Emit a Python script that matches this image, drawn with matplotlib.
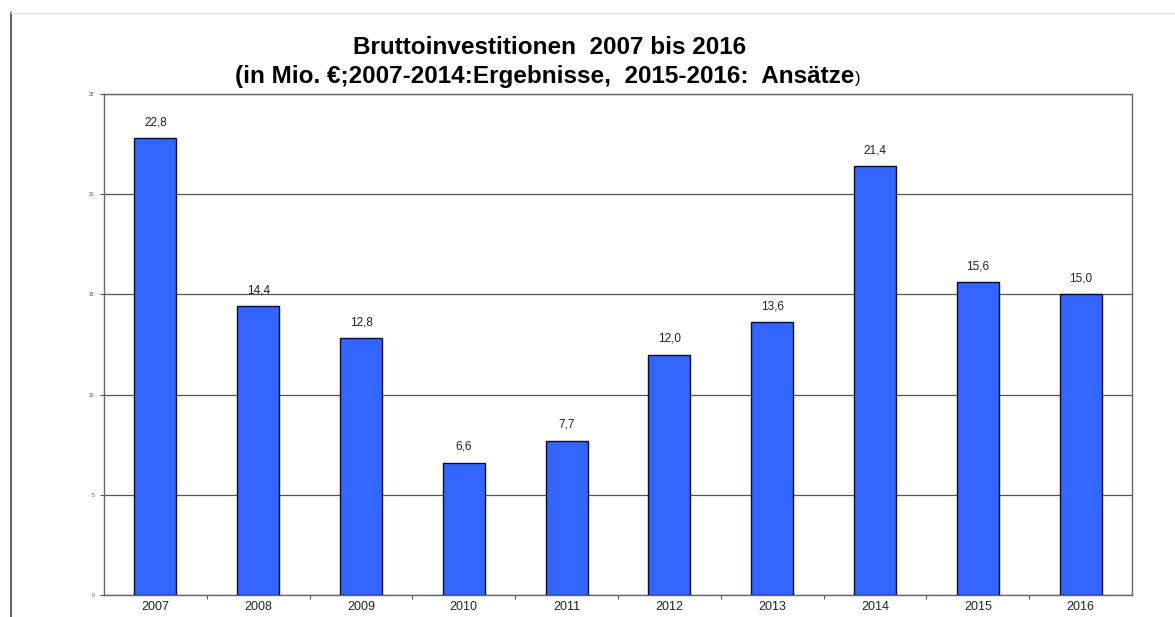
import matplotlib.pyplot as plt
import numpy as np
from matplotlib.lines import Line2D

jahre = ['2007', '2008', '2009', '2010', '2011', '2012', '2013', '2014', '2015', '2016']
werte = [22.8, 14.4, 12.8, 6.6, 7.7, 12.0, 13.6, 21.4, 15.6, 15.0]
beschriftung = ['22,8', '14,4', '12,8', '6,6', '7,7', '12,0', '13,6', '21,4', '15,6', '15,0']

plt.rcParams['font.family'] = ['Liberation Sans', 'DejaVu Sans']

fig = plt.figure(figsize=(11.75, 6.17), dpi=100)
ax = fig.add_axes([104 / 1175, 1 - 595 / 617, 1028 / 1175, 501 / 617])

x = np.arange(len(jahre))
bars = ax.bar(x, werte, width=0.41, color='#3366FF', edgecolor='#0a0a30', linewidth=1.0, zorder=3)

for xi, w, t in zip(x, werte, beschriftung):
    ax.text(xi, w + 0.5, t, ha='center', va='bottom', fontsize=8.5, color='#222222')

ax.set_xlim(-0.5, len(jahre) - 0.5)
ax.set_ylim(0, 25)
ax.set_yticks([0, 5, 10, 15, 20, 25])
ax.set_yticklabels(['0', '5', '10', '15', '20', '25'], fontsize=3.5, color='#555555')
ax.yaxis.grid(True, color='#555555', linewidth=0.9, zorder=0)
ax.tick_params(axis='y', length=3, width=0.8, color='#555555', pad=4)

ax.set_xticks(x)
ax.set_xticklabels(jahre, fontsize=9, color='#222222')
ax.tick_params(axis='x', which='major', length=0, pad=4)
ax.set_xticks(np.arange(0.5, len(jahre) - 1, 1), minor=True)
ax.tick_params(axis='x', which='minor', length=3, width=0.8, color='#555555')

for s in ax.spines.values():
    s.set_color('#666666')
    s.set_linewidth(1.0)

fig.text(550 / 1175, 1 - 47 / 617, 'Bruttoinvestitionen  2007 bis 2016',
         ha='center', va='center', fontsize=17.5, fontweight='bold')
t2 = fig.text(545 / 1175, 1 - 77 / 617, '(in Mio. €;2007-2014:Ergebnisse,  2015-2016:  Ansätze',
              ha='center', va='center', fontsize=17.5, fontweight='bold')
ax.annotate(')', xy=(1, 0.1), xycoords=t2, ha='left', va='bottom', fontsize=12,
            annotation_clip=False)

# Rahmenlinien vom Screenshot
fig.add_artist(Line2D([11 / 1175, 11 / 1175], [0, 1 - 13 / 617], color='#444444', linewidth=1.2))
fig.add_artist(Line2D([11 / 1175, 1], [1 - 13 / 617, 1 - 13 / 617], color='#e6e6e6', linewidth=1.0))

fig.savefig('out.png', dpi=100)
